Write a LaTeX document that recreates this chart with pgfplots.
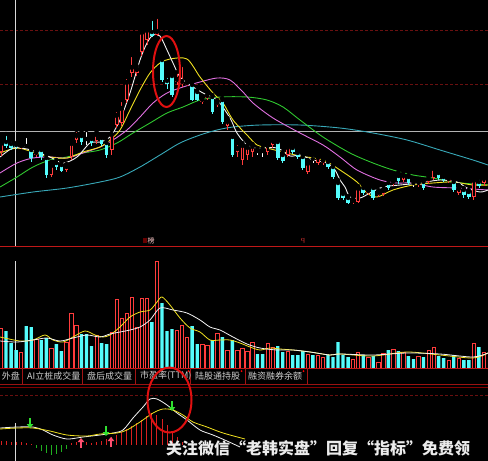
\documentclass[border=0pt]{standalone}
\usepackage{pgfplots}
\pgfplotsset{compat=1.18}
\usepackage{pgfplotstable}
\usepackage{fontspec}
\newfontfamily\cjk{Noto Sans CJK SC}
\usetikzlibrary{arrows.meta}

\definecolor{upred}{HTML}{FF3C3C}
\definecolor{dncyan}{HTML}{54FCFC}
\definecolor{maA}{HTML}{F2F2F2}
\definecolor{maB}{HTML}{F0E020}
\definecolor{maC}{HTML}{E070E0}
\definecolor{maD}{HTML}{30C830}
\definecolor{maE}{HTML}{38A8B8}
\definecolor{gridred}{HTML}{6A1010}
\definecolor{panelred}{HTML}{C01818}
\definecolor{tabtext}{HTML}{D0D0D0}
\definecolor{macdup}{HTML}{D82020}
\definecolor{macddn}{HTML}{20B020}
\definecolor{arrgreen}{HTML}{30E030}
\definecolor{arrred}{HTML}{FF5070}
\definecolor{ring}{HTML}{E01010}

% rising days: x  high  low  body-top  body-bottom  volume (price in screen units)
\pgfplotstableread{
x hi lo bt bb vol
1.0 140 156 143 152 40
21.1 142 149 145 147 16
36.2 150 157 152 155 29
51.3 162 177 165 175 20
66.4 164 172 166 170 26
71.4 140 160 143 157 55
76.5 130 143 135 140 43
96.6 131 144 134 141 33
111.7 130 155 134 150 36
116.7 110 128 115 125 69
121.7 100 126 108 123 50
126.8 77 103 82 100 55
131.8 55 77 67 73 71
136.8 66 76 69 73 41
141.8 29 56 32 52 70
146.9 27 45 30 40 70
156.9 17 36 31 35 107
177.1 72 85 79 82 38
182.1 65 87 81 84 43
187.1 78 86 82 84 31
202.2 97 104 99 102 24
207.2 92 100 95 98 23
217.3 100 107 102 105 35
227.4 118 130 121 126 18
237.4 143 157 148 152 18
242.4 143 165 145 160 20
247.5 145 160 147 155 17
252.5 144 157 146 152 26
267.6 142 155 145 152 25
272.6 138 148 140 145 21
287.7 145 157 147 155 17
307.8 160 174 163 172 14
317.9 155 165 157 163 13
322.9 158 165 160 163 11
353.1 198 204 200 202 9
358.1 186 203 188 202 16
368.2 188 195 190 193 11
378.3 190 197 192 195 6
383.3 186 196 190 194 15
393.3 178 186 181 184 19
403.4 172 182 175 180 16
418.5 179 187 182 185 12
428.6 176 184 178 182 18
433.6 166 180 168 178 21
448.7 176 183 178 181 8
458.7 185 195 188 193 10
473.8 178 200 180 197 25
483.9 176 186 178 183 16
}\upc

% falling days
\pgfplotstableread{
x hi lo bt bb vol
6.0 134 148 142 146 37
11.1 140 150 144 148 25
16.1 143 149 145 147 18
31.2 148 162 150 158 41
41.2 147 160 150 157 28
46.3 155 178 158 175 30
56.3 160 170 163 167 24
61.4 162 172 165 171 17
81.5 132 145 136 142 34
91.5 136 146 139 143 22
101.6 135 146 138 144 25
106.6 140 158 143 155 24
151.9 19 37 32 36 46
162.0 57 82 60 80 65
167.0 76 89 81 84 37
172.0 73 97 76 95 39
192.1 83 101 85 100 42
197.2 90 101 92 100 24
212.3 95 114 97 112 28
222.3 98 124 100 122 31
232.4 135 157 137 155 28
277.7 140 160 142 158 22
282.7 152 163 155 161 16
292.7 146 154 148 152 13
297.8 150 159 153 157 13
302.8 155 170 157 168 17
328.0 160 169 162 167 13
333.0 165 179 167 177 11
338.0 180 200 183 198 26
343.0 192 200 194 198 13
348.1 196 204 198 203 11
363.2 185 195 188 193 13
373.2 186 200 188 198 12
388.3 180 190 183 188 18
398.4 172 184 176 181 17
408.4 175 185 177 183 12
423.5 180 190 182 188 11
438.6 170 180 173 178 12
443.6 175 182 177 180 10
453.7 180 192 182 190 13
463.8 188 198 190 195 8
468.8 190 199 192 197 8
478.9 178 188 182 186 21
}\dnc

% unchanged days (doji)
\pgfplotstableread{
x hi lo bt bb vol
26.2 136 148 146 147 42
86.5 130 145 139 140 34
257.5 148 155 151 152 14
262.6 148 157 151 152 14
312.9 155 163 159 160 13
413.5 180 187 183 184 9
}\flatc

% MACD histogram
\pgfplotstableread{
x h
1.0 4
6.0 4
11.1 3
16.1 3
21.1 3
26.2 2
31.2 1
71.4 2
76.5 3
81.5 2
86.5 3
91.5 2
96.6 3
101.6 4
106.6 6
111.7 8
116.7 10
121.7 13
126.8 16
131.8 19
136.8 22
141.8 25
146.9 29
151.9 32
156.9 30
162.0 26
167.0 20
172.0 14
177.1 8
182.1 3
}\histup
\pgfplotstableread{
x h
36.2 -3
41.2 -6
46.3 -8
51.3 -10
56.3 -9
61.4 -7
66.4 -4
}\histdn

% MACD signal arrows: x, tail, length
\pgfplotstableread{
x y v
30 27 -10
106 19 -10
172 44 -10
}\arrdn
\pgfplotstableread{
x y v
81 -3 10
111 -2 10
}\arrup

\pgfplotsset{
  panel/.style={scale only axis, width=488pt, xmin=0, xmax=488,
    hide axis, anchor=north west},
  wick/.style={only marks, mark=none, forget plot,
    error bars/.cd, y dir=plus, y explicit, error mark=none,
    error bar style={line width=0.8pt, #1}},
  body/.style 2 args={only marks, mark=none, forget plot,
    error bars/.cd, y dir=plus, y explicit, error mark=none,
    error bar style={line width=#2, #1}},
}

\begin{document}
\begin{tikzpicture}
\fill[black] (0,0) rectangle (488pt,-461pt);
\useasboundingbox (0,0) rectangle (488pt,-461pt);

% price panel guides
\draw[gridred, densely dashed, line width=0.6pt] (0,-30pt) -- (488pt,-30pt);
\draw[gridred, densely dashed, line width=0.6pt] (0,-84pt) -- (488pt,-84pt);
\draw[white!70!black, line width=1.3pt] (0,-131.5pt) -- (488pt,-131.5pt);
\draw[white!85!black, line width=0.9pt] (15.5pt,0) -- (15.5pt,-246pt);
\draw[white!85!black, line width=0.9pt] (15.5pt,-261pt) -- (15.5pt,-368pt);
\draw[white!85!black, line width=0.9pt] (15.5pt,-423pt) -- (15.5pt,-461pt);
\draw[panelred, line width=1.2pt] (0,-246.5pt) -- (488pt,-246.5pt);
\draw[gridred, densely dashed, line width=0.6pt] (0,-395pt) -- (488pt,-395pt);

% ---------------- price panel ----------------
\begin{axis}[panel, at={(0pt,0pt)}, height=246pt, ymin=0, ymax=246, y dir=reverse]
% moving averages
\addplot[maE, line width=0.9pt, smooth] coordinates {(0,197)(33,192)(67,188)(100,182)(120,177)(140,167)(160,155)(180,143)(200,135)(217,130)(233,127)(260,125)(300,125)(340,128)(373,133)(407,140)(440,150)(473,160)(488,165)};
\addplot[maD, line width=0.9pt, smooth] coordinates {(0,187)(17,177)(33,167)(50,160)(67,157)(83,153)(100,150)(117,143)(133,133)(150,123)(167,113)(183,107)(200,100)(220,97)(247,97)(267,100)(283,107)(300,120)(323,137)(350,153)(373,163)(393,170)(413,175)(433,178)(453,182)(473,184)(488,185)};
\addplot[maC, line width=0.9pt, smooth] coordinates {(0,173)(17,163)(33,158)(50,157)(67,158)(83,153)(100,147)(113,140)(127,130)(140,117)(153,103)(167,93)(183,87)(200,82)(217,78)(230,80)(243,92)(253,103)(273,118)(300,133)(323,145)(340,157)(357,170)(380,180)(397,183)(413,183)(433,187)(457,188)(473,189)(488,190)};
\addplot[maB, line width=0.9pt, smooth] coordinates {(0,153)(17,148)(33,152)(50,157)(67,158)(83,152)(100,147)(110,140)(120,130)(130,110)(140,90)(150,73)(160,63)(170,59)(187,59)(200,77)(213,93)(223,103)(233,120)(247,135)(257,145)(267,148)(283,152)(300,156)(323,160)(340,170)(357,182)(367,193)(377,197)(393,190)(413,185)(433,183)(453,182)(473,185)(488,185)};
\addplot[maA, line width=0.9pt, smooth] coordinates {(0,157)(13,148)(27,149)(37,152)(50,157)(63,163)(77,157)(90,143)(100,142)(110,137)(120,120)(130,93)(140,60)(147,43)(153,35)(160,36)(167,50)(173,63)(180,77)(190,85)(203,93)(217,100)(230,118)(237,133)(247,145)(257,148)(277,148)(290,156)(300,155)(313,160)(327,163)(335,170)(340,180)(345,187)(350,197)(360,198)(370,193)(383,187)(400,185)(420,183)(440,180)(457,182)(467,188)(480,192)(488,190)};
% candles
\addplot[wick={dncyan}] table[x=x, y=hi, y error expr=\thisrow{lo}-\thisrow{hi}] {\dnc};
\addplot[body={dncyan}{3.6pt}] table[x=x, y=bt, y error expr=\thisrow{bb}-\thisrow{bt}] {\dnc};
\addplot[wick={white}] table[x=x, y=hi, y error expr=\thisrow{lo}-\thisrow{hi}] {\flatc};
\addplot[body={white}{3.6pt}] table[x=x, y=bt, y error expr=\thisrow{bb}-\thisrow{bt}] {\flatc};
\addplot[wick={upred}] table[x=x, y=hi, y error expr=\thisrow{lo}-\thisrow{hi}] {\upc};
\addplot[body={upred}{3.6pt}] table[x=x, y=bt, y error expr=\thisrow{bb}-\thisrow{bt}] {\upc};
\addplot[body={black}{1.8pt}] table[x=x, y expr=\thisrow{bt}+0.9, y error expr={max(\thisrow{bb}-\thisrow{bt}-1.8,0)}] {\upc};
\end{axis}

\fill[black!60!red] (143pt,-238pt) rectangle (147pt,-243pt);
\node[text=white!80!red, font=\cjk\fontsize{7}{7}\selectfont, anchor=west, inner sep=0pt] at (147.5pt,-240.5pt) {榜};
\node[text=upred, font=\fontsize{7}{7}\selectfont, inner sep=0pt] at (303pt,-241pt) {q};

% ---------------- volume panel ----------------
\begin{axis}[panel, at={(0pt,-250pt)}, height=118pt, ymin=0, ymax=118]
\addplot[ybar, bar width=3.4pt, bar shift=0pt, fill=dncyan, draw=none] table[x=x, y=vol] {\dnc};
\addplot[ybar, bar width=3.4pt, bar shift=0pt, fill=dncyan, draw=none] table[x=x, y=vol] {\flatc};
\addplot[ybar, bar width=3.4pt, bar shift=0pt, fill=black, draw=upred, line width=0.8pt] table[x=x, y=vol] {\upc};
\addplot[maB, line width=0.8pt, smooth] coordinates {(0,31)(20,27)(33,28)(45,33)(53,28)(63,26)(73,31)(85,37)(95,33)(103,31)(110,33)(120,41)(130,51)(140,56)(150,58)(157,66)(162,71)(170,63)(180,50)(190,40)(200,36)(210,28)(220,28)(230,28)(240,25)(250,21)(260,18)(270,20)(280,19)(293,18)(310,16)(330,13)(340,14)(373,12)(407,16)(440,13)(473,10)(488,15)};
\addplot[maA, line width=0.8pt, smooth] coordinates {(0,27)(17,26)(33,28)(47,30)(60,27)(73,30)(87,33)(100,31)(110,34)(120,36)(130,38)(140,41)(150,48)(160,60)(173,58)(187,55)(200,48)(210,41)(220,38)(233,31)(247,24)(260,20)(277,18)(293,18)(310,16)(330,13)(340,14)(373,13)(407,15)(440,14)(473,11)(488,15)};
\end{axis}

% ---------------- tab bar ----------------
\draw[panelred, line width=1pt] (0,-368pt) -- (488pt,-368pt);
\draw[panelred!80!black, line width=0.9pt] (0,-384pt) -- (488pt,-384pt);
\draw[black!50!red, line width=0.6pt] (0,-387pt) -- (488pt,-387pt);
\foreach \sx in {22,82,135,190,245,307} {
  \draw[panelred!85!black, line width=0.8pt] (\sx pt,-368pt) -- (\sx pt,-384pt);
}
\begin{scope}[every node/.style={text=tabtext, font=\cjk\fontsize{9}{9}\selectfont, inner sep=0pt}]
\node[anchor=east] at (20pt,-376pt) {外盘};
\node[anchor=west] at (27pt,-376pt) {AI立桩成交量};
\node[anchor=west] at (87pt,-376pt) {盘后成交量};
\node[anchor=west] at (140pt,-376pt) {市盈率(TTM)};
\node[anchor=west] at (195pt,-376pt) {陆股通持股};
\node[anchor=west] at (248pt,-376pt) {融资融券余额};
\end{scope}
\fill[red] (188.5pt,-371pt) circle (1pt);
\fill[red] (241.5pt,-371pt) circle (1pt);
\fill[red] (303.5pt,-371pt) circle (1pt);

% ---------------- MACD panel ----------------
\begin{axis}[panel, at={(0pt,-386pt)}, height=75pt, ymin=-16, ymax=59]
\addplot[ycomb, macdup, line width=1pt] table[x=x, y=h] {\histup};
\addplot[ycomb, macddn, line width=1pt] table[x=x, y=h] {\histdn};
\addplot[maA, line width=0.8pt, smooth] coordinates {(0,17)(17,18)(33,18)(43,15)(53,10)(67,6)(83,8)(100,10)(113,12)(123,15)(133,27)(143,38)(150,46)(157,46)(167,40)(177,32)(187,25)(200,15)(213,10)(227,4)(240,-2)};
\addplot[maB, line width=0.8pt, smooth] coordinates {(0,16)(17,17)(33,17)(50,14)(67,10)(87,9)(100,11)(117,12)(127,15)(140,23)(153,32)(163,36)(173,35)(183,30)(193,23)(207,18)(220,13)(230,10)(245,6)};
\addplot[quiver={u=0, v=\thisrow{v}}, arrgreen, line width=2pt,
  -{Triangle[width=6.5pt, length=4pt]}] table[x=x, y=y] {\arrdn};
\addplot[quiver={u=0, v=\thisrow{v}}, arrred, line width=2pt,
  -{Triangle[width=6.5pt, length=4pt]}] table[x=x, y=y] {\arrup};
\end{axis}

\node[anchor=west, inner sep=0pt, text=white!92!black,
  font=\cjk\bfseries\fontsize{16}{16}\selectfont] at (166pt,-448pt)
  {关注微信“老韩实盘”回复“指标”免费领};

% highlight rings
\draw[ring, line width=2pt] (166.5pt,-71.5pt) ellipse [x radius=13.5pt, y radius=35.5pt];
\draw[ring, line width=2pt] (169.5pt,-400pt) ellipse [x radius=22pt, y radius=32.5pt];
\end{tikzpicture}
\end{document}
